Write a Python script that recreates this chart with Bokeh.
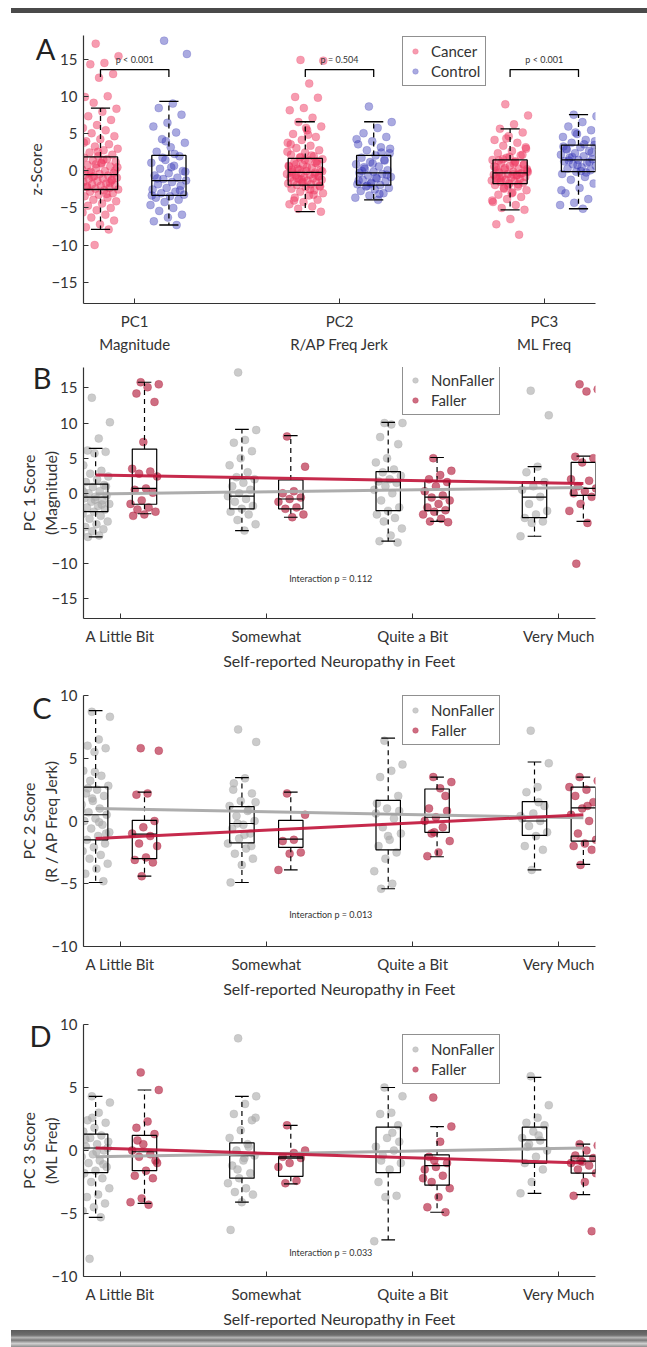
import numpy as np
from bokeh.plotting import figure
from bokeh.models import Range1d, FixedTicker, Label, Legend, LegendItem, Div, LinearAxis
from bokeh.layouts import column
from bokeh.embed import file_html
from bokeh.resources import INLINE

FONT = "Lato"
TXT = "#333333"

# ---------------- Panel A data ----------------
pc_labels = ["PC1\nMagnitude", "PC2\nR/AP Freq Jerk", "PC3\nML Freq"]
p_values = ["p < 0.001", "p = 0.504", "p < 0.001"]

cancer_pc1 = [17.2, 15.5, 14.6, 14.4, 13.1, 12.6, 10.0, 10.1, 9.2, 8.4, 8.0, 7.4, 6.9, 6.2, 5.8, 5.5, 5.1, 4.7,
              4.3, 4.0, 3.6, 3.3, 3.0, 2.8, 2.5, 2.2, 2.0, 1.8, 1.6, 1.4, 1.2, 1.0, 0.8, 0.6, 0.4, 0.2, 0.0, -0.1,
              -0.3, -0.4, -0.5, -0.6, -0.7, -0.9, -1.0, -1.1, -1.3, -1.4, -1.5, -1.7, -1.8, -1.9, -2.0, -2.2,
              -2.3, -2.4, -2.5, -2.6, -2.8, -3.0, -3.2, -3.4, -3.6, -3.9, -4.1, -4.4, -4.7, -5.0, -5.3, -5.6,
              -5.9, -6.3, -6.7, -7.2, -7.6, -7.9, -10.0, 0.5, 1.5, -0.2, -1.2, 2.6, 3.8, -3.1, -0.8, 0.1, 1.1,
              -2.1, -1.6, 0.9]
control_pc1 = [17.6, 15.8, 9.1, 8.5, 7.6, 6.5, 6.0, 5.2, 4.3, 3.8, 3.2, 2.6, 2.0, 1.5, 1.1, 0.7, 0.3, 0.0, -0.3,
               -0.6, -0.9, -1.1, -1.3, -1.5, -1.8, -2.0, -2.3, -2.5, -2.8, -3.0, -3.2, -3.4, -3.6, -3.9, -4.2,
               -4.6, -5.0, -5.4, -5.9, -6.3, -6.8, -7.3, 1.8, -0.1, 0.5, -1.0, -2.6, 4.0, -3.3, 2.3]
cancer_pc2 = [15.0, 14.9, 11.8, 10.0, 9.9, 8.5, 8.2, 7.2, 6.6, 6.0, 5.5, 5.0, 4.6, 4.2, 3.8, 3.4, 3.1, 2.8, 2.5,
              2.2, 2.0, 1.8, 1.6, 1.4, 1.2, 1.0, 0.8, 0.6, 0.4, 0.3, 0.1, 0.0, -0.1, -0.2, -0.3, -0.4, -0.5,
              -0.6, -0.7, -0.8, -0.9, -1.0, -1.1, -1.2, -1.3, -1.4, -1.5, -1.6, -1.7, -1.8, -1.9, -2.0, -2.2,
              -2.4, -2.6, -2.8, -3.0, -3.3, -3.6, -3.9, -4.2, -4.5, -4.8, -5.1, -5.5, 0.5, -0.35, 1.1, -1.15,
              2.6, -2.5, 0.9, -0.75, 1.5, 3.6, -3.2, 0.2, -0.05, 4.9, -4.0, 1.3, -1.45, 0.7, 2.1, -0.95, -2.1,
              5.8, 0.15, -0.45, 1.9]
control_pc2 = [8.7, 6.6, 5.8, 5.1, 4.6, 4.0, 3.6, 3.2, 2.8, 2.4, 2.1, 1.8, 1.5, 1.2, 0.9, 0.6, 0.3, 0.1, -0.1,
               -0.25, -0.4, -0.6, -0.8, -1.0, -1.2, -1.4, -1.6, -1.8, -1.9, -2.1, -2.3, -2.5, -2.7, -3.0, -3.3,
               -3.6, -3.9, 0.5, -0.5, 1.0, -1.3, 2.5, -2.0, 3.0, -0.9, 0.0, 1.4, -1.7, 4.3, -3.1]
cancer_pc3 = [9.0, 7.5, 6.3, 5.7, 5.2, 4.7, 4.2, 3.8, 3.4, 3.0, 2.7, 2.4, 2.1, 1.8, 1.5, 1.3, 1.1, 0.9, 0.7, 0.5,
              0.3, 0.2, 0.0, -0.1, -0.2, -0.3, -0.4, -0.5, -0.6, -0.7, -0.8, -0.9, -1.0, -1.1, -1.2, -1.3, -1.4,
              -1.5, -1.6, -1.7, -1.9, -2.1, -2.3, -2.6, -2.9, -3.2, -3.5, -3.8, -4.2, -4.6, -5.0, -5.25, -6.5,
              -7.2, -8.6, 0.4, -0.15, 1.0, -0.95, 2.2, -2.0, 0.6, -0.55, 1.6, 3.2, -3.0, 0.1, -0.35, 4.4, -4.0,
              1.2, -1.25, 0.8, 1.9, -0.75, -1.8, -2.4, 0.25, -0.45, 1.4]
control_pc3 = [7.6, 7.4, 6.6, 6.0, 5.5, 5.0, 4.6, 4.2, 3.8, 3.5, 3.2, 3.0, 2.7, 2.4, 2.2, 2.0, 1.8, 1.6, 1.5, 1.3,
               1.1, 0.9, 0.7, 0.5, 0.3, 0.1, -0.1, -0.4, -0.8, -1.2, -1.7, -2.3, -3.0, -3.8, -4.3, -4.6, -5.1,
               1.4, 2.5, 0.8, 3.3, -0.2, 1.9, 4.0, 0.0, 2.9, 1.2, 5.2, -2.6, 3.6]

# box stats: [lower whisker, q1, median, q3, upper whisker]
box_cancer = [[-7.9, -2.5, -0.5, 1.9, 8.5], [-5.5, -1.9, -0.2, 1.7, 6.65], [-5.25, -1.7, -0.25, 1.5, 5.7]]
box_control = [[-7.3, -3.3, -1.3, 2.1, 9.4], [-3.9, -1.9, -0.25, 2.1, 6.65], [-5.1, -0.1, 1.5, 3.5, 7.6]]

# ---------------- Panels B-D data ----------------
neuro_labels = ["A Little Bit", "Somewhat", "Quite a Bit", "Very Much"]

b_nonfaller = [
    [13.6, 10.1, 7.8, 6.1, 5.9, 5.7, 4.0, 3.2, 2.8, 2.4, 2.0, 1.6, 1.2, 0.9, 0.6, 0.3, 0.0, -0.3, -0.5, -0.7,
     -1.0, -1.2, -1.5, -1.8, -2.0, -2.3, -2.6, -2.9, -3.2, -3.6, -4.0, -4.4, -4.8, -5.1, -5.4, -5.7, -6.0, -6.2,
     1.0, -0.9, 0.2, -1.6],
    [17.2, 9.0, 7.6, 7.2, 6.0, 5.0, 4.0, 3.0, 2.3, 2.0, 1.5, 1.0, 0.5, 0.0, -0.4, -0.8, -1.2, -1.8, -2.2, -2.6,
     -3.0, -3.8, -4.4, -5.3],
    [10.0, 10.0, 9.8, 8.0, 7.0, 5.0, 4.4, 3.4, 3.0, 2.5, 2.0, 1.7, 1.5, 1.0, 0.5, 0.0, -1.0, -2.0, -2.5, -3.0,
     -3.5, -4.0, -5.0, -6.0, -6.8, -7.0],
    [14.6, 11.1, 3.8, 3.0, 1.6, 1.0, 0.5, -0.5, -1.5, -2.5, -3.0, -3.5, -4.0, -4.2, -6.1],
]
b_faller = [
    [15.8, 15.5, 15.1, 14.2, 13.0, 7.3, 3.5, 3.1, 2.8, 2.4, 0.7, 0.5, 0.1, -1.0, -1.5, -2.0, -2.3, -2.6, -3.0, -3.2],
    [8.1, 3.8, 0.3, 0.0, -0.6, -0.8, -1.2, -2.0, -2.2, -3.0, -3.4],
    [5.0, 3.2, 2.6, 2.0, 1.6, 1.0, 0.3, -0.3, -0.6, -1.0, -1.5, -2.0, -2.4, -2.6, -3.0, -3.6, -4.0, -4.1],
    [15.5, 14.8, 14.5, 5.2, 5.0, 4.4, 2.0, 1.8, 1.0, 0.7, 0.3, 0.0, -0.5, -1.5, -2.5, -4.2, -10.0],
]
b_box_nonfaller = [[-6.2, -2.6, -0.55, 1.3, 6.4], [-5.3, -2.2, -0.4, 2.1, 9.1],
                   [-6.8, -2.45, 1.65, 3.1, 10.1], [-6.1, -3.45, -0.55, 1.65, 3.8]]
b_box_faller = [[-2.9, -1.55, 0.7, 6.3, 15.8], [-3.4, -2.2, -0.8, 1.9, 8.2],
                [-4.0, -2.45, -0.55, 1.75, 5.1], [-4.0, -0.3, 0.7, 4.4, 5.3]]
b_fit_nonfaller = [-0.338, 0.285]   # intercept, slope
b_fit_faller = [2.90, -0.36]

c_nonfaller = [
    [8.7, 8.3, 6.5, 6.0, 5.8, 5.5, 4.0, 3.6, 3.2, 2.8, 2.5, 2.2, 2.0, 1.6, 1.3, 1.0, 0.7, 0.5, 0.2, 0.0, -0.3,
     -0.6, -0.9, -1.2, -1.5, -1.8, -2.1, -2.4, -2.7, -3.0, -3.4, -3.8, -4.2, -4.8, 1.8, 0.9, -0.1, 2.6, -1.0, 3.9],
    [7.3, 6.3, 3.4, 3.0, 2.2, 1.6, 1.2, 0.8, 0.4, 0.0, -0.3, -0.6, -1.0, -1.4, -1.8, -2.2, -2.6, -3.0, -3.5,
     -4.9, 0.9, -0.2, 1.5, -1.1, 2.5, -2.0],
    [6.4, 4.5, 4.0, 3.5, 2.0, 1.0, 0.6, 0.2, -0.5, -1.0, -1.5, -2.0, -2.5, -3.0, -4.0, -5.0, -5.4, 0.8, -1.2, 1.4],
    [7.2, 4.6, 2.7, 2.3, 1.2, 0.6, 0.2, 0.0, -0.4, -0.9, -1.2, -2.0, -2.3, -3.9, 0.4, 1.5],
]
c_faller = [
    [5.8, 5.6, 2.2, 2.1, 0.0, -0.5, -1.0, -1.2, -1.8, -2.0, -2.9, -3.1, -3.3, -4.4],
    [2.2, 0.5, -1.5, -1.6, -2.5, -2.6, -3.9],
    [3.5, 3.1, 2.6, 1.0, 0.8, 0.3, 0.0, -0.5, -1.0, -1.6, -2.5, -2.8, 2.0, -0.9],
    [3.5, 3.2, 2.5, 2.0, 1.5, 1.0, 0.5, 0.0, -1.0, -1.5, -1.8, -2.0, -2.3, -3.5, 2.7, 1.2],
]
c_box_nonfaller = [[-4.9, -1.5, 0.5, 2.7, 8.8], [-4.9, -1.75, -0.2, 1.15, 3.45],
                   [-5.4, -2.3, 0.55, 1.65, 6.6], [-3.9, -1.15, 0.0, 1.55, 4.7]]
c_box_faller = [[-4.4, -3.0, -1.05, 0.05, 2.3], [-3.9, -2.1, -1.45, 0.05, 2.3],
                [-2.85, -0.9, 0.3, 2.55, 3.5], [-3.45, -1.6, 1.05, 2.7, 3.5]]
c_fit_nonfaller = [1.188, -0.225]
c_fit_faller = [-1.877, 0.571]

d_nonfaller = [
    [4.3, 3.8, 3.0, 2.4, 2.2, 1.8, 1.5, 1.2, 1.0, 0.7, 0.5, 0.3, 0.0, -0.3, -0.5, -0.8, -1.0, -1.3, -1.6, -1.8,
     -2.2, -2.5, -3.0, -3.5, -3.7, -4.2, -4.5, -4.8, -5.3, -8.6, 0.2, -0.1, 0.9, -1.1, 2.6, -2.0],
    [8.9, 4.3, 3.7, 2.9, 2.4, 1.6, 1.0, 0.5, 0.0, -0.4, -0.8, -1.2, -1.8, -2.2, -2.6, -3.0, -3.3, -3.5, -4.1,
     -6.3, 0.3, -1.5, 2.6, -0.6],
    [5.0, 4.3, 3.0, 2.9, 2.0, 1.0, 0.3, 0.0, -0.4, -1.0, -1.5, -2.5, -3.6, -3.7, -7.2, 1.4, -0.8, 0.7],
    [5.9, 3.6, 2.6, 2.2, 2.0, 1.5, 1.0, 0.8, 0.5, 0.0, -0.5, -1.0, -1.5, -2.5, -3.4, 1.2, 0.3],
]
d_faller = [
    [6.2, 4.8, 2.3, 1.8, 1.3, 0.5, 0.0, -0.3, -0.5, -1.0, -1.6, -2.0, -2.2, -3.8, -4.1, -4.3, 0.8, -0.8],
    [2.0, 0.0, -0.2, -0.5, -0.6, -1.0, -1.3, -2.4, -2.6],
    [4.2, 1.9, 0.7, -0.5, -1.0, -1.3, -1.5, -2.0, -2.5, -3.0, -3.7, -4.5, -4.9, -0.8, -2.2],
    [0.5, 0.4, 0.0, -0.4, -0.6, -0.9, -1.0, -1.2, -1.5, -1.8, -2.5, -3.6, -6.4, -0.8],
]
d_box_nonfaller = [[-5.3, -1.75, 0.2, 1.3, 4.3], [-4.1, -2.2, -0.4, 0.6, 4.3],
                   [-7.1, -1.75, -0.1, 1.85, 5.0], [-3.4, -1.0, 0.85, 1.85, 5.8]]
d_box_faller = [[-4.2, -1.6, -0.1, 1.2, 4.8], [-2.65, -2.05, -0.6, -0.5, 2.0],
                [-4.9, -2.75, -1.2, -0.35, 1.9], [-3.5, -1.8, -0.85, -0.45, 0.5]]
d_fit_nonfaller = [-0.675, 0.21]
d_fit_faller = [0.50, -0.36]

interaction_texts = ["Interaction p = 0.112", "Interaction p = 0.013", "Interaction p = 0.033"]
panel_letters = ["A", "B", "C", "D"]

# ---------------- styling ----------------
CANCER = "#ee3a62"
CONTROL = "#3535b5"
NONFALLER = "#a8a8a8"
FALLER = "#b3203f"
GREY_LINE = "#a9a9a9"
RED_LINE = "#c01338"

OFF = 0.167   # group offset from category centre
BW = 0.167    # box width


def jitter(n, w):
    return [(((i * 0.6180339887 + 0.37) % 1.0) - 0.5) * w for i in range(n)]


def base_fig(height, top, bottom, xr, yr, yticks, xticks, xlabels, xlabel=None, ylabel=None, ylab_standoff=0):
    p = figure(width=647, height=height, x_range=Range1d(*xr), y_range=Range1d(*yr),
               output_backend="svg", toolbar_location=None,
               min_border_left=83, min_border_right=52, min_border_top=top, min_border_bottom=bottom)
    p.xgrid.visible = False
    p.ygrid.visible = False
    p.outline_line_color = None
    p.background_fill_color = "white"
    p.border_fill_color = "white"
    for ax in (p.xaxis[0], p.yaxis[0]):
        ax.axis_line_color = "#333333"
        ax.axis_line_width = 1.2
        ax.major_tick_line_color = "#333333"
        ax.major_tick_in = 5
        ax.major_tick_out = 0
        ax.minor_tick_line_color = None
        ax.major_label_text_font = FONT
        ax.major_label_text_color = TXT
        ax.major_label_text_font_size = "15px"
        ax.axis_label_text_font = FONT
        ax.axis_label_text_color = TXT
        ax.axis_label_text_font_size = "16px"
        ax.axis_label_text_font_style = "normal"
    p.yaxis[0].ticker = FixedTicker(ticks=yticks)
    p.yaxis[0].major_label_standoff = 6
    p.xaxis[0].ticker = FixedTicker(ticks=xticks)
    p.xaxis[0].major_label_overrides = {t: l for t, l in zip(xticks, xlabels)}
    p.xaxis[0].major_label_standoff = 8
    p.xaxis[0].major_label_text_line_height = 1.3
    if xlabel:
        p.xaxis[0].axis_label = xlabel
        p.xaxis[0].axis_label_standoff = 3
    if ylabel:
        p.yaxis[0].axis_label = ylabel
        p.yaxis[0].axis_label_standoff = ylab_standoff
    return p


def draw_boxes(p, xs, stats, lw=1.3):
    lo = [s[0] for s in stats]
    q1 = [s[1] for s in stats]
    md = [s[2] for s in stats]
    q3 = [s[3] for s in stats]
    hi = [s[4] for s in stats]
    p.quad(left=[x - BW / 2 for x in xs], right=[x + BW / 2 for x in xs], bottom=q1, top=q3,
           fill_color=None, line_color="black", line_width=lw)
    p.segment(x0=[x - BW / 2 for x in xs], x1=[x + BW / 2 for x in xs], y0=md, y1=md,
              line_color="black", line_width=lw)
    p.segment(x0=xs + xs, x1=xs + xs, y0=q3 + q1, y1=hi + lo, line_color="black",
              line_width=lw, line_dash="5 4")
    cw = BW * 0.28
    p.segment(x0=[x - cw for x in xs] * 2, x1=[x + cw for x in xs] * 2, y0=hi + lo, y1=hi + lo,
              line_color="black", line_width=lw)


def panel_letter(p, letter, yval, standoff):
    # the panel letter is drawn as the single tick label of an extra, invisible left axis
    ax = LinearAxis(ticker=FixedTicker(ticks=[yval]), major_label_overrides={yval: letter},
                    axis_line_color=None, major_tick_line_color=None, minor_tick_line_color=None,
                    major_label_text_font=FONT, major_label_text_font_size="29px",
                    major_label_text_color="#222222", major_label_standoff=standoff)
    p.add_layout(ax, "left")


def make_legend(p, labels, renderers, loc):
    items = [LegendItem(label=lab, renderers=[r], index=0) for lab, r in zip(labels, renderers)]
    lg = Legend(items=items, location=loc, border_line_color="#222222", border_line_width=1.5,
                background_fill_color="white", background_fill_alpha=1.0,
                label_text_font=FONT, label_text_font_size="15px", label_text_color=TXT,
                glyph_width=14, glyph_height=14, label_height=16, spacing=2, padding=5,
                label_standoff=9, margin=0)
    p.add_layout(lg)


# ---------------- Panel A ----------------
A_XR = (0.75, 3.25)
A_YR = (-17.9, 18.3)
pA = base_fig(335, 15, 51, A_XR, A_YR, [-15, -10, -5, 0, 5, 10, 15], [1, 2, 3], pc_labels,
              ylabel="z-Score", ylab_standoff=3)

cancer_all = [cancer_pc1, cancer_pc2, cancer_pc3]
control_all = [control_pc1, control_pc2, control_pc3]
leg_r = []
for k in range(3):
    xc = k + 1 - OFF
    js = jitter(len(cancer_all[k]), 0.18)
    r1 = pA.scatter(x=[xc + j for j in js], y=cancer_all[k], size=8, color=CANCER, alpha=0.5, line_alpha=0.2)
    xk = k + 1 + OFF
    js = jitter(len(control_all[k]), 0.18)
    r2 = pA.scatter(x=[xk + j for j in js], y=control_all[k], size=8, color=CONTROL, alpha=0.42, line_alpha=0.2)
    if k == 0:
        leg_r = [r1, r2]

draw_boxes(pA, [k + 1 - OFF for k in range(3)], box_cancer)
draw_boxes(pA, [k + 1 + OFF for k in range(3)], box_control)

# significance brackets
for k in range(3):
    x0, x1 = k + 1 - OFF, k + 1 + OFF
    pA.line(x=[x0, x0, x1, x1], y=[12.7, 13.7, 13.7, 12.7], line_color="black", line_width=1.3)
    pA.add_layout(Label(x=k + 1.0, y=15.0, text=p_values[k], text_font=FONT, text_font_size="9px",
                        text_color=TXT, text_align="center", text_baseline="middle"))

panel_letter(pA, panel_letters[0], 16.55, -38)
make_legend(pA, ["Cancer", "Control"], leg_r, (319, 217))


# ---------------- Panels B-D ----------------
def neuro_panel(height, top, bottom, yr, yticks, ylabel, nonf, fall, box_n, box_f, fit_n, fit_f,
                letter, letter_y, legend_loc, inter_text, inter_y):
    xr = (0.75, 4.25)
    p = base_fig(height, top, bottom, xr, yr, yticks, [1, 2, 3, 4], neuro_labels,
                 xlabel="Self-reported Neuropathy in Feet", ylabel=ylabel, ylab_standoff=-12)
    rs = []
    for k in range(4):
        xn = k + 1 - OFF
        js = jitter(len(nonf[k]), 0.2)
        rn = p.scatter(x=[xn + j for j in js], y=nonf[k], size=8, color=NONFALLER, alpha=0.6, line_alpha=0.3)
        xf = k + 1 + OFF
        js = jitter(len(fall[k]), 0.2)
        rf = p.scatter(x=[xf + j for j in js], y=fall[k], size=8, color=FALLER, alpha=0.65, line_alpha=0.3)
        if k == 0:
            rs = [rn, rf]
    draw_boxes(p, [k + 1 - OFF for k in range(4)], box_n, lw=1.2)
    draw_boxes(p, [k + 1 + OFF for k in range(4)], box_f, lw=1.2)
    xa, xb = 1 - OFF, 4 + OFF
    p.line(x=[xa, xb], y=[fit_n[0] + fit_n[1] * xa, fit_n[0] + fit_n[1] * xb],
           line_color=GREY_LINE, line_width=3, line_alpha=0.95)
    p.line(x=[xa, xb], y=[fit_f[0] + fit_f[1] * xa, fit_f[0] + fit_f[1] * xb],
           line_color=RED_LINE, line_width=3, line_alpha=0.9)
    p.add_layout(Label(x=2.44, y=inter_y, text=inter_text, text_font=FONT, text_font_size="9px",
                       text_color=TXT, text_align="center", text_baseline="middle"))
    panel_letter(p, letter, letter_y, -42)
    make_legend(p, ["NonFaller", "Faller"], rs, legend_loc)
    return p


pB = neuro_panel(320, 12, 57, (-17.8, 17.9), [-15, -10, -5, 0, 5, 10, 15], "PC 1 Score\n(Magnitude)",
                 b_nonfaller, b_faller, b_box_nonfaller, b_box_faller, b_fit_nonfaller, b_fit_faller,
                 panel_letters[1], 16.48, (319, 203), interaction_texts[0], -12.1)
pC = neuro_panel(325, 20, 52, (-10, 10), [-10, -5, 0, 5, 10], "PC 2 Score\n(R / AP Freq Jerk)",
                 c_nonfaller, c_faller, c_box_nonfaller, c_box_faller, c_fit_nonfaller, c_fit_faller,
                 panel_letters[2], 9.05, (319, 201), interaction_texts[1], -7.46)
pD = neuro_panel(330, 24, 53, (-10, 10), [-10, -5, 0, 5, 10], "PC 3 Score\n(ML Freq)",
                 d_nonfaller, d_faller, d_box_nonfaller, d_box_faller, d_fit_nonfaller, d_fit_faller,
                 panel_letters[3], 9.13, (319, 192), interaction_texts[2], -8.1)

top_bar = Div(text='<div style="margin-left:11px;margin-top:8px;height:5px;width:636px;'
                   'background:#4a4a4a;"></div>', width=647, height=20, margin=0)
bottom_bar = Div(text='<div style="margin-left:11px;height:17px;width:636px;'
                      'background:linear-gradient(#5c5c5c 0%, #6e6e6e 30%, #b5b5b5 45%, #7a7a7a 60%, '
                      '#d0d0d0 80%, #8c8c8c 100%);"></div>', width=647, height=17, margin=0)

layout = column(top_bar, pA, pB, pC, pD, bottom_bar, spacing=0)

open("out.html", "w").write(file_html(layout, INLINE, "chart"))
